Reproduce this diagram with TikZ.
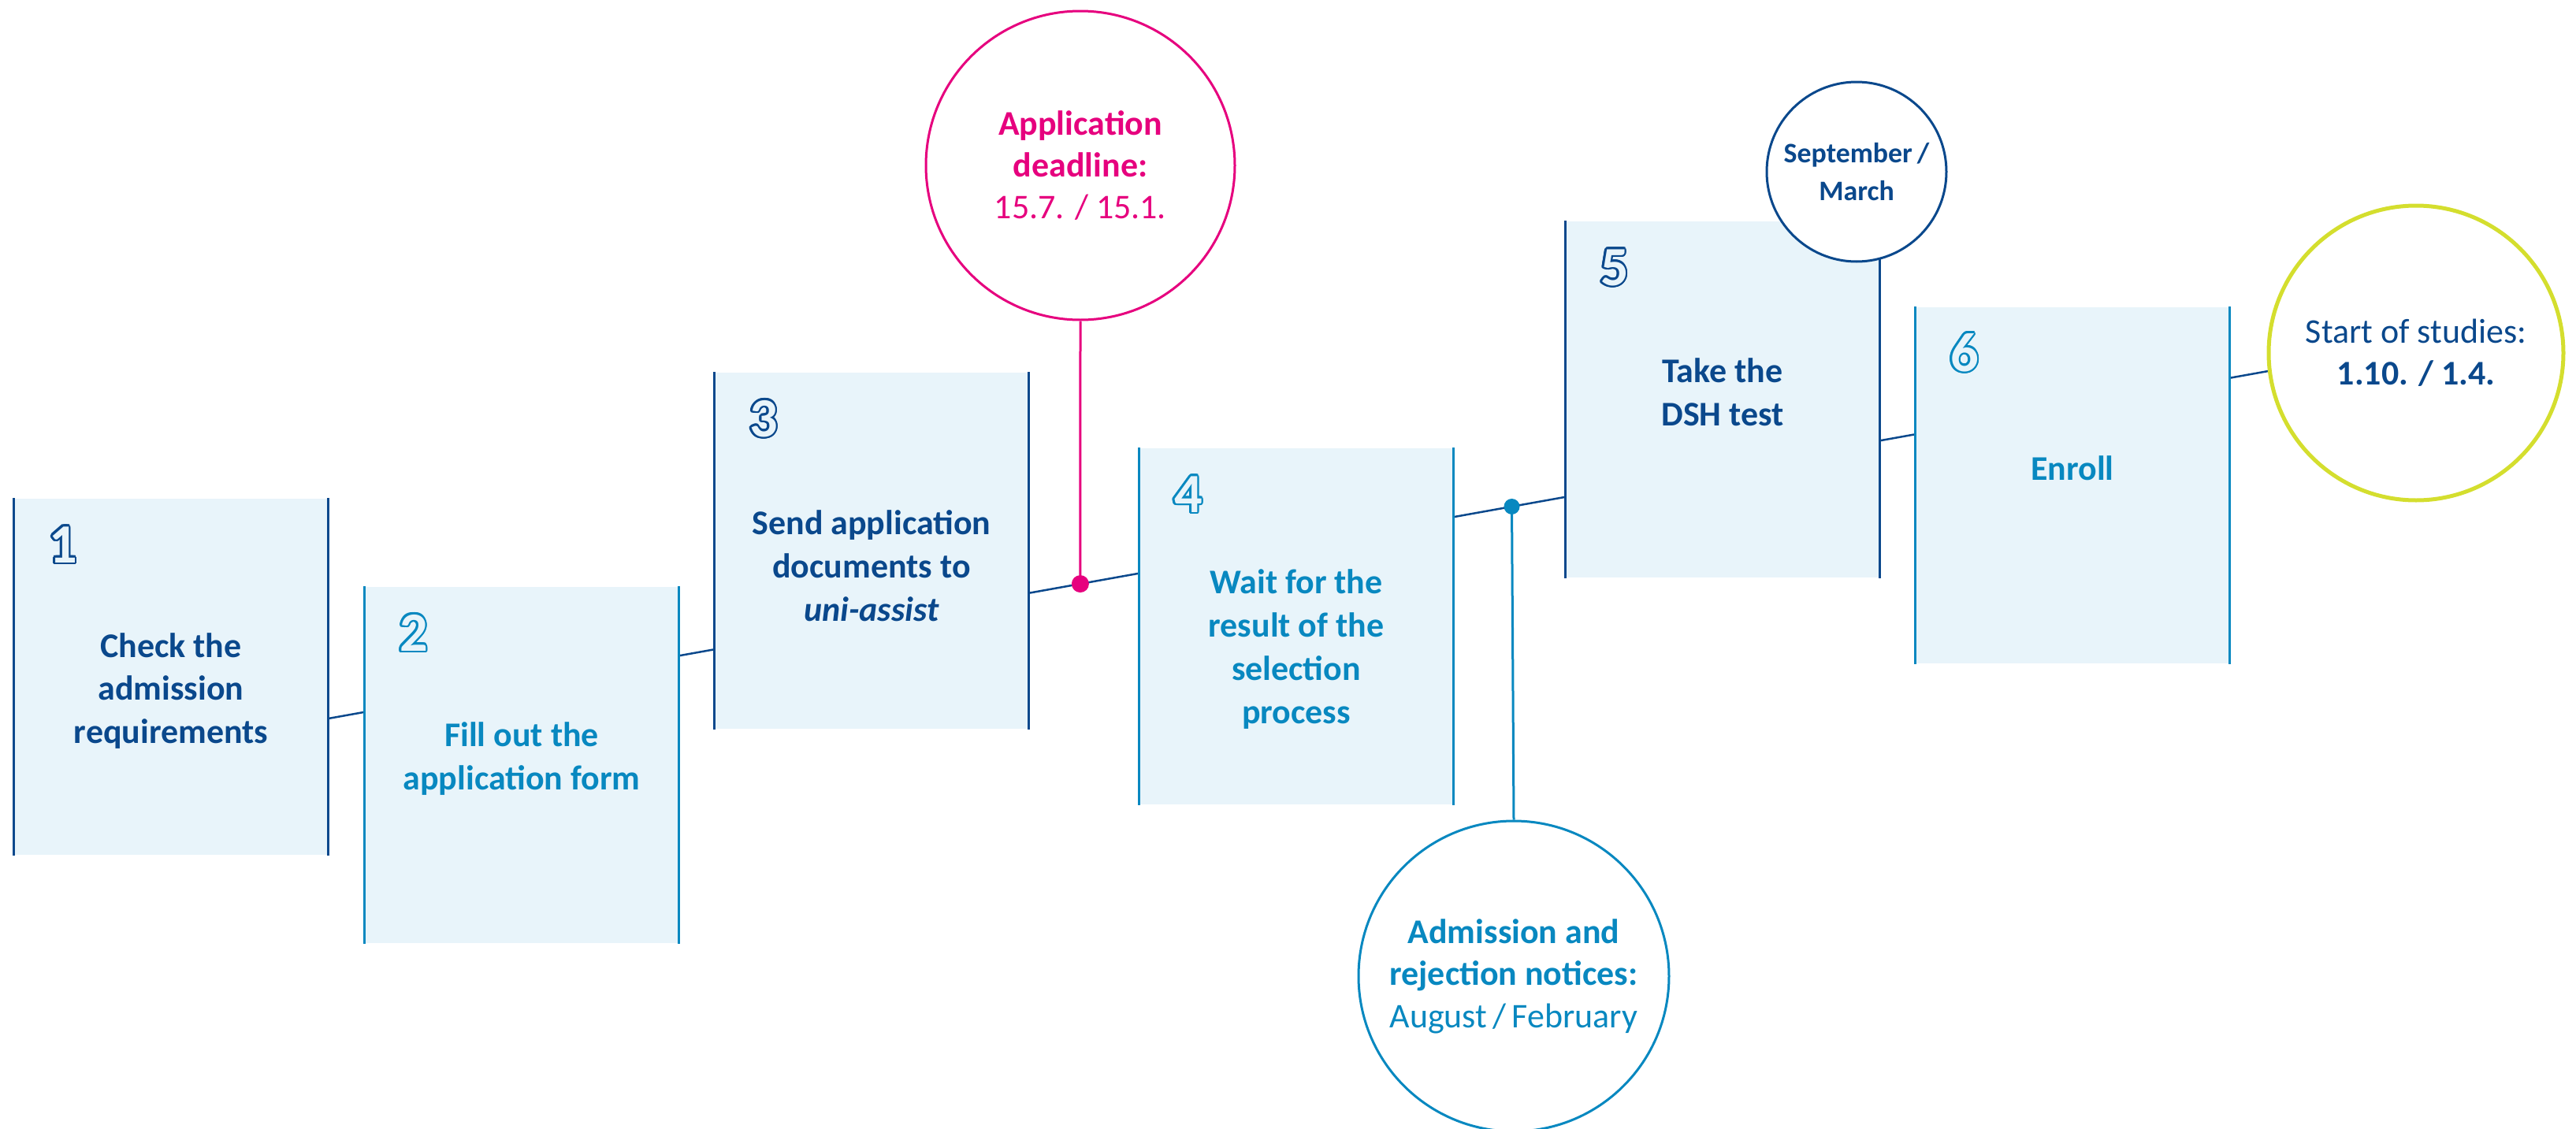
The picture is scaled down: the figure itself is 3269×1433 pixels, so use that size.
\documentclass[tikz,border=0pt]{standalone}
\usepackage{fontspec}
\setmainfont{Carlito}
\usepackage{contour}
\usetikzlibrary{calc,backgrounds}

\definecolor{navy}{RGB}{10,72,140}
\definecolor{sky}{RGB}{8,136,192}
\definecolor{boxfill}{RGB}{232,244,250}
\definecolor{pinkish}{RGB}{230,0,126}
\definecolor{lime}{RGB}{212,222,46}

\contourlength{0.75pt}
\newcommand{\stepno}[2]{{\color{boxfill}\contour{#1}{#2}}}

\begin{document}
\begin{tikzpicture}
  [x=0.1mm,y=-0.1mm,
   stepbox/.style={rectangle,fill=boxfill,minimum width=39.8mm,minimum height=45.2mm,inner sep=0pt},
   steptext/.style={align=center,inner sep=0pt,font=\fontsize{12.5}{15.6}\selectfont\bfseries},
   stepnum/.style={anchor=base west,inner sep=0pt,font=\fontsize{20}{20}\selectfont\bfseries},
   dateball/.style={circle,fill=white,line width=0.3mm,align=center,inner sep=0pt,font=\fontsize{12.5}{15.2}\selectfont},
   axis/.style={navy,line width=0.25mm}]
  \useasboundingbox (0,0) rectangle (3269,1433);

  % the six steps
  \node[stepbox] (s1) at (217,859) {};
  \node[stepbox] (s2) at (662,971) {};
  \node[stepbox] (s3) at (1106,699) {};
  \node[stepbox] (s4) at (1645,795) {};
  \node[stepbox] (s5) at (2186,507) {};
  \node[stepbox] (s6) at (2630,616) {};

  \foreach \i/\c in {1/navy,2/sky,3/navy,4/sky,5/navy,6/sky} {
    \draw[\c,line width=0.3mm] (s\i.north west) -- (s\i.south west)
                               (s\i.north east) -- (s\i.south east);
    \node[stepnum] (n\i) at ($(s\i.north west)+(44,82)$) {\stepno{\c}{\i}};
  }

  \node[steptext,navy] (t1) at (217,877) {Check the\\admission\\requirements};
  \node[steptext,sky] (t2) at (662,963) {Fill out the\\application form};
  \node[steptext,navy] (t3) at (1106,718) {Send application\\documents to\\\textit{uni-assist}};
  \node[steptext,sky] (t4) at (1645,824) {Wait for the\\result of the\\selection\\process};
  \node[steptext,navy] (t5) at (2186,498) {Take the\\DSH test};
  \node[steptext,sky] (t6) at (2630,594) {Enroll};

  % dates
  \node[dateball,draw=pinkish,text=pinkish,minimum size=39.2mm] (deadline) at (1371,210)
    {\textbf{Application}\\\textbf{deadline:}\\15.7. / 15.1.};
  \node[dateball,draw=sky,text=sky,minimum size=39.4mm] (notice) at (1921,1239)
    {\textbf{Admission and}\\\textbf{rejection notices:}\\August\,/\,February};
  \node[dateball,draw=navy,text=navy,minimum size=22.8mm,font=\fontsize{10.2}{13.7}\selectfont\bfseries] (dsh) at (2356,218)
    {September\,/\\March};
  \node[dateball,draw=lime,text=navy,line width=0.5mm,minimum size=37.4mm] (start) at (3066,448)
    {Start of studies:\\\textbf{1.10. / 1.4.}};

  % time line
  \begin{scope}[on background layer]
    \draw[axis] ($(s1.east)+(0,53)$) coordinate (a0) -- (start.187) coordinate (a1);
  \end{scope}
  \coordinate (d1) at ($(a0)!0.3877!(a1)$);
  \coordinate (d2) at ($(a0)!0.6102!(a1)$);
  \draw[pinkish,line width=0.3mm] (deadline.south) -- (d1);
  \fill[pinkish] (d1) circle (1.1mm);
  \draw[sky,line width=0.3mm] (notice.north) -- (d2);
  \fill[sky] (d2) circle (1mm);

\end{tikzpicture}
\end{document}
